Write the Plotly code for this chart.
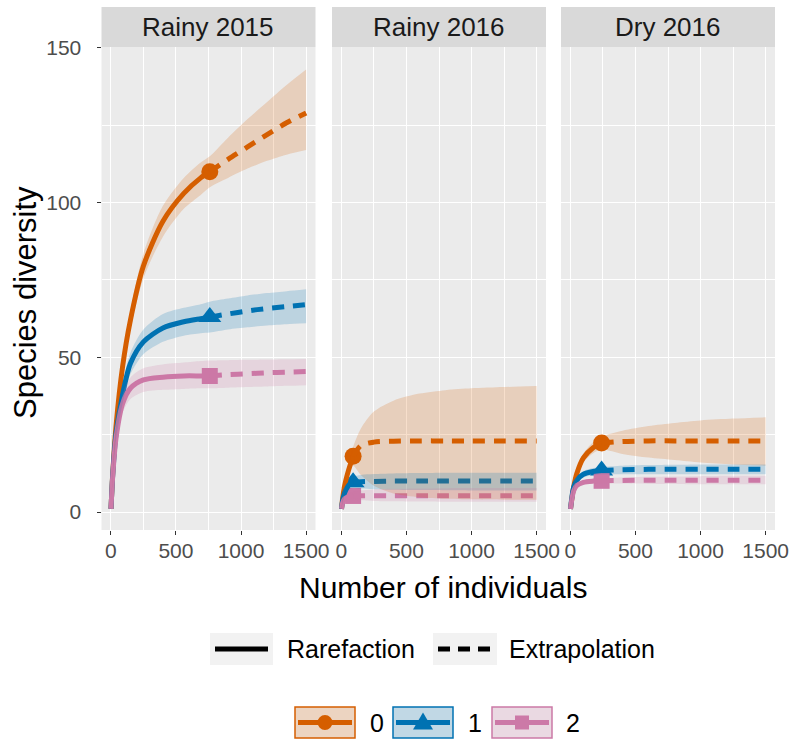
import plotly.graph_objects as go

# ---- facets, orders, styling keys ----
FACETS = ["Rainy 2015", "Rainy 2016", "Dry 2016"]
ORDERS = ["0", "1", "2"]
COLORS = ["#D55E00", "#0072B2", "#CC79A7"]
SYMBOLS = ["circle", "triangle-up", "square"]
METHODS = ["Rarefaction", "Extrapolation"]

X_TICKS = [0, 500, 1000, 1500]
Y_TICKS = [0, 50, 100, 150]

# ---- Rainy 2015 ----
R15_OBS = 760
R15_X = [1, 15, 40, 90, 150, 250, 400, 560, 690, 760, 900, 1050, 1200, 1350, 1500]
R15_Q0 = [1, 13, 28, 47, 62, 79.5, 94, 103, 108, 110, 114, 118, 122, 125.8, 129]
R15_Q0_LO = [1, 12.5, 26.5, 45, 59, 75.5, 89, 98, 102.5, 105, 108, 111, 113.5, 115.5, 117]
R15_Q0_HI = [1, 13.5, 29.5, 49, 65, 83.5, 99, 108, 113, 115, 121, 127, 132.5, 138, 143]
R15_Q1 = [1, 12.5, 25.5, 38, 48, 55, 59.5, 61.5, 62.5, 63, 64, 65, 65.8, 66.4, 67]
R15_Q1_LO = [1, 12, 23.5, 35, 44.5, 51, 55, 57, 57.8, 58, 59, 59.7, 60.3, 60.7, 61]
R15_Q1_HI = [1, 13, 27.5, 41, 51.5, 59, 64, 66, 67.2, 68, 69, 70, 70.8, 71.4, 72]
R15_Q2 = [1, 12, 24, 35, 40, 42.7, 43.6, 44, 44, 44, 44.4, 44.7, 45, 45.2, 45.4]
R15_Q2_LO = [1, 11.5, 22, 32, 36.5, 38.8, 39.5, 39.8, 40, 40, 40.2, 40.4, 40.6, 40.8, 41]
R15_Q2_HI = [1, 12.5, 26, 38, 43.5, 46.5, 47.7, 48.3, 48.8, 49, 49.1, 49.2, 49.3, 49.4, 49.5]

# ---- Rainy 2016 ----
R16_OBS = 90
R16_X = [1, 10, 25, 45, 70, 90, 150, 250, 400, 600, 800, 1000, 1250, 1500]
R16_Q0 = [1, 4.5, 8.5, 12, 15.5, 18, 21.5, 22.6, 22.9, 23, 23, 23, 23, 23]
R16_Q0_LO = [1, 4, 7.5, 10.5, 13.5, 15, 12, 8.5, 6, 4.8, 4.3, 4.1, 4, 4]
R16_Q0_HI = [1, 5, 9.5, 13.5, 17.5, 21, 27, 32.5, 36, 38.3, 39.4, 40, 40.4, 40.7]
R16_Q1 = [1, 3.8, 6.2, 8, 9.2, 9.6, 9.8, 9.9, 10, 10, 10, 10, 10, 10]
R16_Q1_LO = [1, 3.3, 5.3, 6.7, 7.6, 7.8, 7.6, 7.4, 7.2, 7.1, 7.05, 7, 7, 7]
R16_Q1_HI = [1, 4.3, 7.1, 9.3, 10.8, 11.4, 12, 12.3, 12.5, 12.6, 12.7, 12.7, 12.7, 12.7]
R16_Q2 = [1, 3, 4.3, 4.8, 5.1, 5.2, 5.25, 5.3, 5.3, 5.3, 5.3, 5.3, 5.3, 5.3]
R16_Q2_LO = [1, 2.6, 3.6, 3.9, 4, 4, 3.8, 3.6, 3.5, 3.4, 3.35, 3.3, 3.3, 3.3]
R16_Q2_HI = [1, 3.4, 5, 5.8, 6.3, 6.5, 7, 7.3, 7.5, 7.6, 7.7, 7.75, 7.8, 7.8]

# ---- Dry 2016 ----
D16_OBS = 240
D16_X = [1, 25, 50, 100, 175, 240, 400, 600, 800, 1000, 1250, 1500]
D16_Q0 = [1, 8, 12.5, 17.5, 20.8, 22.3, 22.8, 23, 23, 23, 23, 23]
D16_Q0_LO = [1, 7.5, 11.5, 16, 19, 20.2, 18.8, 17.6, 16.8, 16, 15.4, 15]
D16_Q0_HI = [1, 8.5, 13.5, 19, 22.6, 24.4, 26.3, 27.8, 28.8, 29.6, 30.2, 30.6]
D16_Q1 = [1, 8, 10.3, 12.2, 13.1, 13.4, 13.7, 13.8, 13.8, 13.8, 13.8, 13.8]
D16_Q1_LO = [1, 7.4, 9.5, 11.2, 12, 12.2, 12.2, 12.2, 12.2, 12.2, 12.2, 12.2]
D16_Q1_HI = [1, 8.6, 11.1, 13.2, 14.2, 14.6, 15, 15.2, 15.3, 15.4, 15.4, 15.4]
D16_Q2 = [1, 6.8, 8.6, 9.6, 10, 10.1, 10.2, 10.3, 10.3, 10.3, 10.3, 10.3]
D16_Q2_LO = [1, 6.4, 8, 8.9, 9.2, 9.3, 9.2, 9.1, 9.1, 9, 9, 9]
D16_Q2_HI = [1, 7.2, 9.2, 10.3, 10.8, 10.9, 11.2, 11.4, 11.5, 11.6, 11.7, 11.7]

facet_data = [
    (R15_OBS, R15_X, [(R15_Q0, R15_Q0_LO, R15_Q0_HI), (R15_Q1, R15_Q1_LO, R15_Q1_HI),
                      (R15_Q2, R15_Q2_LO, R15_Q2_HI)]),
    (R16_OBS, R16_X, [(R16_Q0, R16_Q0_LO, R16_Q0_HI), (R16_Q1, R16_Q1_LO, R16_Q1_HI),
                      (R16_Q2, R16_Q2_LO, R16_Q2_HI)]),
    (D16_OBS, D16_X, [(D16_Q0, D16_Q0_LO, D16_Q0_HI), (D16_Q1, D16_Q1_LO, D16_Q1_HI),
                      (D16_Q2, D16_Q2_LO, D16_Q2_HI)]),
]

# ---- page geometry (pixels) ----
W, H = 793, 740
PANELS = [(101.5, 315.5), (332, 546), (561, 775)]
PANEL_TOP, PANEL_BOTTOM = 47, 530
STRIP_TOP = 7
X_RANGE = [-72, 1572]
Y_RANGE = [-5.8, 150.3]
FONT = "Liberation Sans, Arial, Helvetica, sans-serif"
LW = 5
DASH = "12px,9px"
MARKER_SIZE = {"circle": 17, "triangle-up": 20, "square": 16}
SMOOTH = dict(shape="spline", smoothing=0.8)


def fx(p):
    return p / W


def fy(p):
    return 1 - p / H


def rgba(hex_color, a):
    h = hex_color.lstrip("#")
    r, g, b = int(h[0:2], 16), int(h[2:4], 16), int(h[4:6], 16)
    return f"rgba({r},{g},{b},{a})"


fig = go.Figure()

for i, (n_obs, xs, series) in enumerate(facet_data):
    sfx = "" if i == 0 else str(i + 1)
    xa, ya = "x" + sfx, "y" + sfx
    k = xs.index(n_obs)
    # observed points
    for q, (ys, lo, hi) in enumerate(series):
        fig.add_trace(go.Scatter(
            x=[xs[k]], y=[ys[k]], xaxis=xa, yaxis=ya, mode="markers",
            marker=dict(symbol=SYMBOLS[q], size=MARKER_SIZE[SYMBOLS[q]], color=COLORS[q],
                        line=dict(width=0)),
            showlegend=False, hoverinfo="skip"))
    # rarefaction / extrapolation curves
    for q, (ys, lo, hi) in enumerate(series):
        fig.add_trace(go.Scatter(
            x=xs[:k + 1], y=ys[:k + 1], xaxis=xa, yaxis=ya, mode="lines",
            line=dict(color=COLORS[q], width=LW, **SMOOTH),
            name=METHODS[0], showlegend=False, hoverinfo="skip"))
        fig.add_trace(go.Scatter(
            x=xs[k:], y=ys[k:], xaxis=xa, yaxis=ya, mode="lines",
            line=dict(color=COLORS[q], width=LW, dash=DASH, **SMOOTH),
            name=METHODS[1], showlegend=False, hoverinfo="skip"))
    # confidence ribbons: lower bound, then upper bound filled down to it
    for q, (ys, lo, hi) in enumerate(series):
        fig.add_trace(go.Scatter(
            x=xs, y=lo, xaxis=xa, yaxis=ya, mode="lines",
            line=dict(width=0, color="rgba(0,0,0,0)", **SMOOTH),
            showlegend=False, hoverinfo="skip"))
        fig.add_trace(go.Scatter(
            x=xs, y=hi, xaxis=xa, yaxis=ya, mode="lines", fill="tonexty",
            fillcolor=rgba(COLORS[q], 0.2), line=dict(width=0, color="rgba(0,0,0,0)", **SMOOTH),
            showlegend=False, hoverinfo="skip"))

layout = dict(
    width=W, height=H, margin=dict(l=0, r=0, t=0, b=0, pad=0, autoexpand=False),
    paper_bgcolor="white", plot_bgcolor="#EBEBEB",
    font=dict(family=FONT, color="#000000"), showlegend=False,
)

common_x = dict(
    range=X_RANGE, tickvals=X_TICKS, ticktext=[str(v) for v in X_TICKS],
    ticks="outside", ticklen=4, tickwidth=1.2, tickcolor="#333333",
    tickfont=dict(size=21, color="#4D4D4D", family=FONT), ticklabelstandoff=-2,
    showgrid=True, gridcolor="white", gridwidth=1.4, zeroline=False, showline=False,
    minor=dict(tickvals=[250, 750, 1250], showgrid=True, gridcolor="white", gridwidth=0.7, ticks=""),
    fixedrange=True, automargin=False,
)
common_y = dict(
    range=Y_RANGE, tickvals=Y_TICKS, domain=[fy(PANEL_BOTTOM), fy(PANEL_TOP)],
    showgrid=True, gridcolor="white", gridwidth=1.4, zeroline=False, showline=False,
    minor=dict(tickvals=[25, 75, 125], showgrid=True, gridcolor="white", gridwidth=0.7, ticks=""),
    fixedrange=True, automargin=False,
)

for i, (l, r) in enumerate(PANELS):
    sfx = "" if i == 0 else str(i + 1)
    layout["xaxis" + sfx] = dict(common_x, domain=[fx(l), fx(r)], anchor="y" + sfx)
    if i == 0:
        layout["yaxis" + sfx] = dict(common_y, anchor="x", ticks="outside", ticklen=4,
                                     tickwidth=1.2, tickcolor="#333333",
                                     tickfont=dict(size=21, color="#4D4D4D", family=FONT),
                                     ticklabelstandoff=11)
    else:
        layout["yaxis" + sfx] = dict(common_y, anchor="x" + sfx, showticklabels=False, ticks="")

fig.update_layout(**layout)

shapes = []
annotations = []

# facet strips
for (l, r), name in zip(PANELS, FACETS):
    shapes.append(dict(type="rect", xref="paper", yref="paper", x0=fx(l), x1=fx(r),
                       y0=fy(PANEL_TOP), y1=fy(STRIP_TOP), fillcolor="#D9D9D9",
                       line=dict(width=0), layer="below"))
    annotations.append(dict(text=name, xref="paper", yref="paper", x=fx((l + r) / 2),
                            y=fy((STRIP_TOP + PANEL_TOP) / 2), showarrow=False,
                            xanchor="center", yanchor="middle",
                            font=dict(size=26, color="#1A1A1A", family=FONT)))

# axis titles
annotations.append(dict(text="Number of individuals", xref="paper", yref="paper",
                        x=fx(443), y=fy(587), showarrow=False, xanchor="center", yanchor="middle",
                        font=dict(size=30, color="#000000", family=FONT)))
annotations.append(dict(text="Species diversity", xref="paper", yref="paper",
                        x=fx(26), y=fy(303), showarrow=False, xanchor="center", yanchor="middle",
                        textangle=-90, font=dict(size=31, color="#000000", family=FONT)))

# linetype legend
LT_KEYS = [(210, 273, 285), (433, 497, 507)]
for (k0, k1, tx), method, dash in zip(LT_KEYS, METHODS, ["solid", "12px,8px"]):
    shapes.append(dict(type="rect", xref="paper", yref="paper", x0=fx(k0), x1=fx(k1),
                       y0=fy(665), y1=fy(633), fillcolor="#F2F2F2", line=dict(width=0)))
    shapes.append(dict(type="line", xref="paper", yref="paper", x0=fx(k0 + 5), x1=fx(k1 - 5),
                       y0=fy(649), y1=fy(649), line=dict(color="black", width=LW, dash=dash)))
    annotations.append(dict(text=method, xref="paper", yref="paper", x=fx(tx), y=fy(649),
                            showarrow=False, xanchor="left", yanchor="middle",
                            font=dict(size=25, color="#000000", family=FONT)))

# order legend
ORD_KEYS = [(295, 355, 368), (393, 453, 466), (492, 552, 564)]
YC = 722.5
for q, (k0, k1, tx) in enumerate(ORD_KEYS):
    c = COLORS[q]
    shapes.append(dict(type="rect", xref="paper", yref="paper", x0=fx(k0), x1=fx(k1),
                       y0=fy(738), y1=fy(707), fillcolor="#F2F2F2", line=dict(width=0)))
    shapes.append(dict(type="rect", xref="paper", yref="paper", x0=fx(k0), x1=fx(k1),
                       y0=fy(738), y1=fy(707), fillcolor=rgba(c, 0.2),
                       line=dict(color=c, width=1.5)))
    shapes.append(dict(type="line", xref="paper", yref="paper", x0=fx(k0 + 3), x1=fx(k1 - 3),
                       y0=fy(YC), y1=fy(YC), line=dict(color=c, width=LW)))
    cx = (k0 + k1) / 2
    if SYMBOLS[q] == "circle":
        rr = 7.5
        shapes.append(dict(type="circle", xref="paper", yref="paper", x0=fx(cx - rr), x1=fx(cx + rr),
                           y0=fy(YC + rr), y1=fy(YC - rr), fillcolor=c, line=dict(width=0)))
    elif SYMBOLS[q] == "triangle-up":
        path = (f"M {fx(cx - 10)},{fy(YC + 7)} L {fx(cx + 10)},{fy(YC + 7)} "
                f"L {fx(cx)},{fy(YC - 10)} Z")
        shapes.append(dict(type="path", xref="paper", yref="paper", path=path,
                           fillcolor=c, line=dict(width=0)))
    else:
        s = 7
        shapes.append(dict(type="rect", xref="paper", yref="paper", x0=fx(cx - s), x1=fx(cx + s),
                           y0=fy(YC + s), y1=fy(YC - s), fillcolor=c, line=dict(width=0)))
    annotations.append(dict(text=ORDERS[q], xref="paper", yref="paper", x=fx(tx), y=fy(YC),
                            showarrow=False, xanchor="left", yanchor="middle",
                            font=dict(size=25, color="#000000", family=FONT)))

fig.update_layout(shapes=shapes, annotations=annotations)
fig.write_html("out.html")
